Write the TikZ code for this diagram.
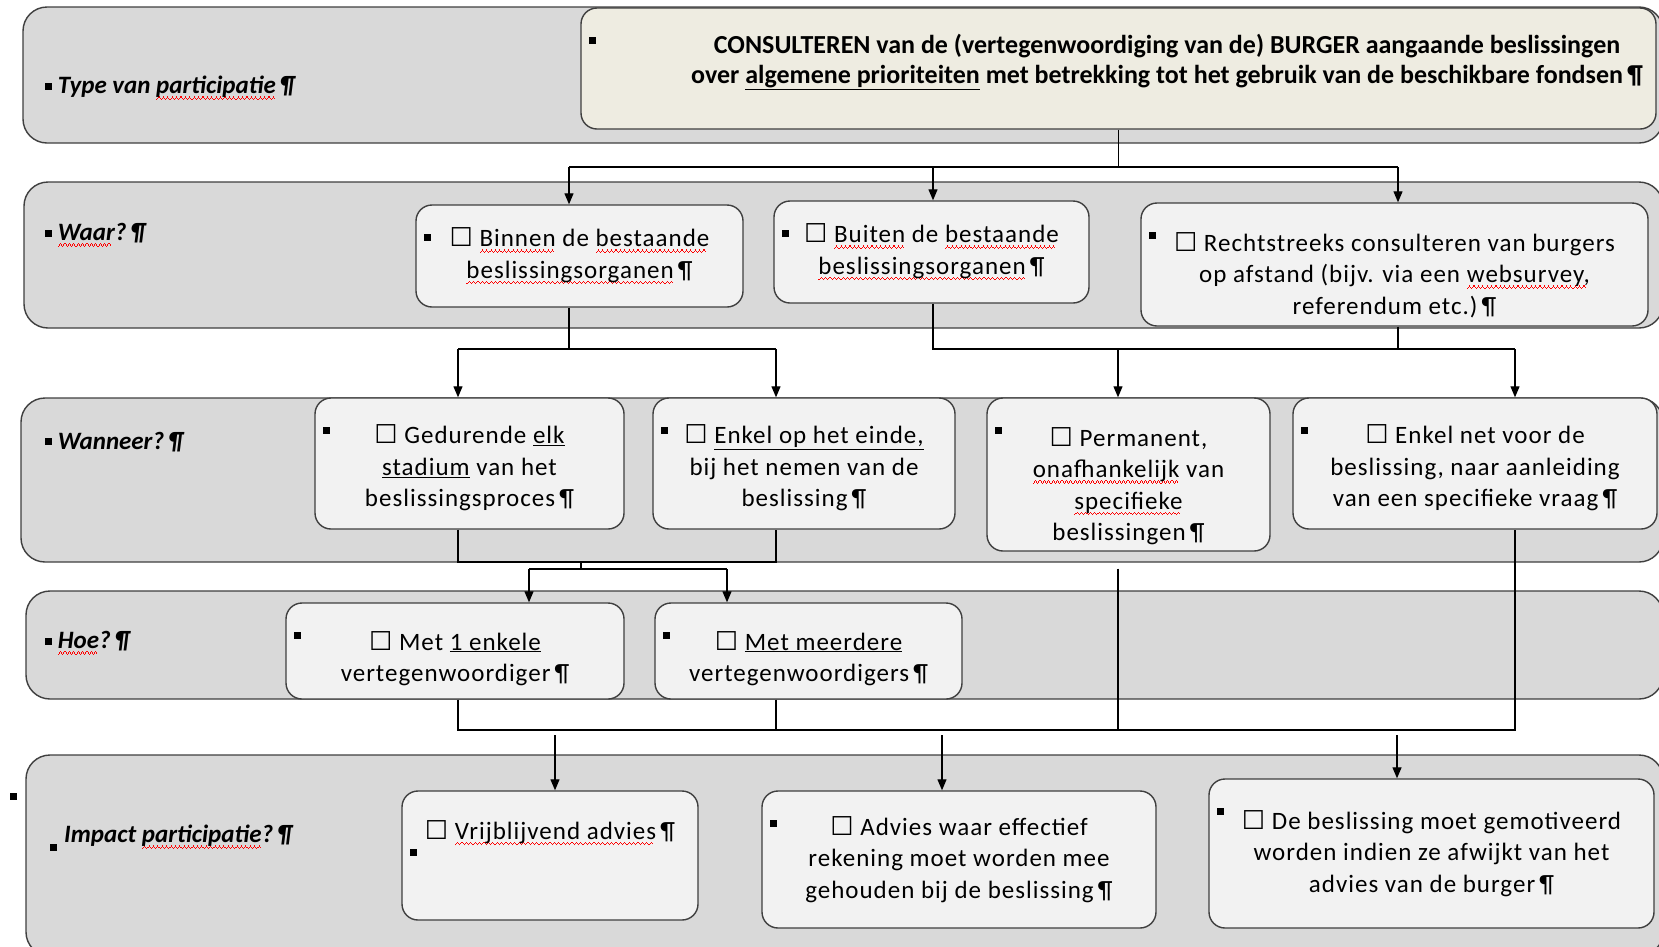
\documentclass[tikz,border=0pt]{standalone}
\usepackage{fontspec}
\setmainfont{Carlito}
\newfontfamily\boxfamily[LetterSpace=4]{Carlito}
\newfontfamily\ballotfont{DejaVu Sans}
\usetikzlibrary{arrows.meta,positioning,calc}

\definecolor{bandgray}{HTML}{D9D9D9}
\definecolor{boxgray}{HTML}{F2F2F2}
\definecolor{beige}{HTML}{EEECE1}
\definecolor{rimgray}{HTML}{3F3F3F}

\newsavebox{\wavebox}
\newcommand{\mk}{\rule[4pt]{7pt}{7pt}}
\newcommand{\ballot}{{\ballotfont\fontsize{26}{26}\selectfont ☐}}
\newcommand{\wavestep}{\hbox{\rule[0pt]{1.1pt}{1.1pt}\rule[1.1pt]{1.1pt}{1.1pt}\rule[2.2pt]{1.1pt}{1.1pt}\rule[1.1pt]{1.1pt}{1.1pt}}}
\newcommand{\wavy}[1]{\sbox{\wavebox}{#1}\rlap{\textcolor{red}{\lower6pt\hbox to\wd\wavebox{\leaders\wavestep\hfill}}}\usebox{\wavebox}}
\newcommand{\undl}[1]{\underline{#1}}
\newcommand{\pil}{\,¶}
\newcommand{\topgap}[1]{\rule{0pt}{#1}}
\newcommand{\boxfont}{\boxfamily\fontsize{25}{31.5}\selectfont}
\newcommand{\rowfont}{\fontsize{25}{30}\selectfont\bfseries\itshape}

\tikzset{
  band/.style={
    draw=rimgray,
    fill=bandgray,
    line width=1.4pt,
    rounded corners=24pt
  },
  bulleted/.style={
    path picture={
      \fill[black, sharp corners] ([shift={(8pt,-#1)}]path picture bounding box.north west) rectangle ++(7pt,7pt);
    }
  },
  bulleted/.default=36pt,
  boxsize/.style 2 args={
    minimum width=#1pt,
    minimum height=#2pt
  },
  choice/.style={
    draw=rimgray,
    fill=boxgray,
    line width=1.4pt,
    rounded corners=16pt,
    align=center,
    font=\boxfont,
    inner sep=2pt,
    bulleted
  },
  rowlabel/.style={
    anchor=west,
    font=\rowfont,
    inner sep=0pt
  },
  link/.style={
    line width=1.2pt
  }
}

\begin{document}
\begin{tikzpicture}[x=1pt, y=-1pt, >={Triangle[length=11pt,width=9pt]}]
 \useasboundingbox (0,0) rectangle (1659,946);
 \clip (0,0) rectangle (1659,946);

 % rows
 \draw[band] (23,7) rectangle (1663,143);
 \draw[band] (24,182) rectangle (1663,328);
 \draw[band] (21,398) rectangle (1663,562);
 \draw[band] (26,591) rectangle (1663,699);
 \draw[band] (26,755) rectangle (1663,956);

 \node[rowlabel] (typelbl) at (45,88) {\mk\ Type van \wavy{participatie}\pil};
 \node[rowlabel] (waarlbl) at (45,235) {\mk\ \wavy{Waar}?\pil};
 \node[rowlabel] (wanneerlbl) at (45,442) {\mk\ Wanneer?\pil};
 \node[rowlabel] (hoelbl) at (45,643) {\mk\ \wavy{Hoe}?\pil};
 \node[rowlabel] (impactlbl) at (50,840) {\raisebox{-12pt}{\mk}\hspace{7pt}Impact \wavy{participatie}?\pil};
 \fill (10,793) rectangle (17,800);

 % boxes
 \node[choice, fill=beige, boxsize={1075}{121}] (top) at (1118.5,68.5) {};
 \node[font=\fontsize{26}{30}\selectfont\bfseries, align=center] (toptext) at (1167,62)
   {CONSULTEREN van de (vertegenwoordiging van de) BURGER aangaande beslissingen\\
    over \undl{algemene prioriteiten} met betrekking tot het gebruik van de beschikbare fondsen\pil};

 \node[choice, boxsize={327}{102}] (binnen) at (579.5,256)
   {\ballot\ \wavy{Binnen} de \wavy{bestaande}\\ \wavy{beslissingsorganen}\pil};
 \node[choice, boxsize={315}{102}] (buiten) at (931.5,252)
   {\ballot\ \wavy{Buiten} de \wavy{bestaande}\\ \wavy{beslissingsorganen}\pil};
 \node[choice, boxsize={507}{123}] (recht) at (1394.5,264.5)
   {\topgap{40pt}\ballot\ Rechtstreeks consulteren van burgers\\ op afstand (bijv. via een \wavy{websurvey,}\\ referendum etc.)\pil};

 \node[choice, boxsize={309}{131}] (gedurende) at (469.5,463.5)
   {\topgap{28pt}\ballot\ Gedurende \undl{elk}\\ \undl{stadium} van het\\ beslissingsproces\pil};
 \node[choice, boxsize={302}{131}] (einde) at (804,463.5)
   {\topgap{28pt}\ballot\ \undl{Enkel op het einde,}\\ bij het nemen van de\\ beslissing\pil};
 \node[choice, boxsize={283}{153}] (permanent) at (1128.5,474.5)
   {\topgap{42pt}\ballot\ Permanent,\\ \wavy{onafhankelijk} van\\ \wavy{specifieke}\\ beslissingen\pil};
 \node[choice, boxsize={364}{131}] (netvoor) at (1475,463.5)
   {\topgap{28pt}\ballot\ Enkel net voor de\\ beslissing, naar aanleiding\\ van een specifieke vraag\pil};

 \node[choice, boxsize={338}{96}] (eenvert) at (455,651)
   {\topgap{34pt}\ballot\ Met \undl{1 enkele}\\ vertegenwoordiger\pil};
 \node[choice, boxsize={307}{96}] (meervert) at (808.5,651)
   {\topgap{34pt}\ballot\ \undl{Met meerdere}\\ vertegenwoordigers\pil};

 \node[choice, boxsize={296}{129}, bulleted=65pt] (vrij) at (550,855.5)
   {\topgap{40pt}\ballot\ \wavy{Vrijblijvend advies}\pil\\ \strut\\ \strut};
 \node[choice, boxsize={394}{137}] (advies) at (959,859.5)
   {\ballot\ Advies waar effectief\\ rekening moet worden mee\\ gehouden bij de beslissing\pil};
 \node[choice, boxsize={445}{149}] (motiv) at (1431.5,853.5)
   {\ballot\ De beslissing moet gemotiveerd\\ worden indien ze afwijkt van het\\ advies van de burger\pil};

 % connectors
 \coordinate (w1) at (569,167);
 \coordinate (w2) at (933,167);
 \coordinate (w3) at (1398,167);
 \draw[link] (top.south) -- (top.south |- w1);
 \draw[link] (w1) -- (w3);
 \foreach \p/\n in {w1/binnen, w2/buiten, w3/recht}
   \draw[link,->] (\p) -- (\p |- \n.north);

 \coordinate (a1) at (458,349);
 \coordinate (a2) at (776,349);
 \coordinate (a3) at (1118,349);
 \coordinate (a4) at (1515,349);
 \draw[link] (w1 |- binnen.south) -- (w1 |- a1);
 \draw[link] (a1) -- (a2);
 \draw[link] (w2 |- buiten.south) -- (w2 |- a3) -- (a4);
 \draw[link] (w3 |- recht.south) -- (w3 |- a3);
 \foreach \p/\n in {a1/gedurende, a2/einde, a3/permanent, a4/netvoor}
   \draw[link,->] (\p) -- (\p |- \n.north);

 \coordinate (h0) at (581,562);
 \coordinate (h1) at (529,569);
 \coordinate (h2) at (727,569);
 \draw[link] (a1 |- gedurende.south) -- (a1 |- h0) -- (a2 |- h0) -- (a2 |- einde.south);
 \draw[link] (h0) -- (h0 |- h1);
 \draw[link] (h1) -- (h2);
 \foreach \p/\n in {h1/eenvert, h2/meervert}
   \draw[link,->] (\p) -- (\p |- \n.north);

 \coordinate (bus) at (0,730);
 \draw[link] (a1 |- eenvert.south) -- (a1 |- bus) -- (a4 |- bus) -- (a4 |- netvoor.south);
 \draw[link] (a2 |- meervert.south) -- (a2 |- bus);
 \draw[link] ($(a3 |- permanent.south)+(0,17)$) -- (a3 |- bus);

 \coordinate (d1) at (555,735);
 \coordinate (d2) at (942,735);
 \coordinate (d3) at (1397,735);
 \foreach \p/\n in {d1/vrij, d2/advies, d3/motiv}
   \draw[link,->] (\p) -- (\p |- \n.north);
\end{tikzpicture}
\end{document}
